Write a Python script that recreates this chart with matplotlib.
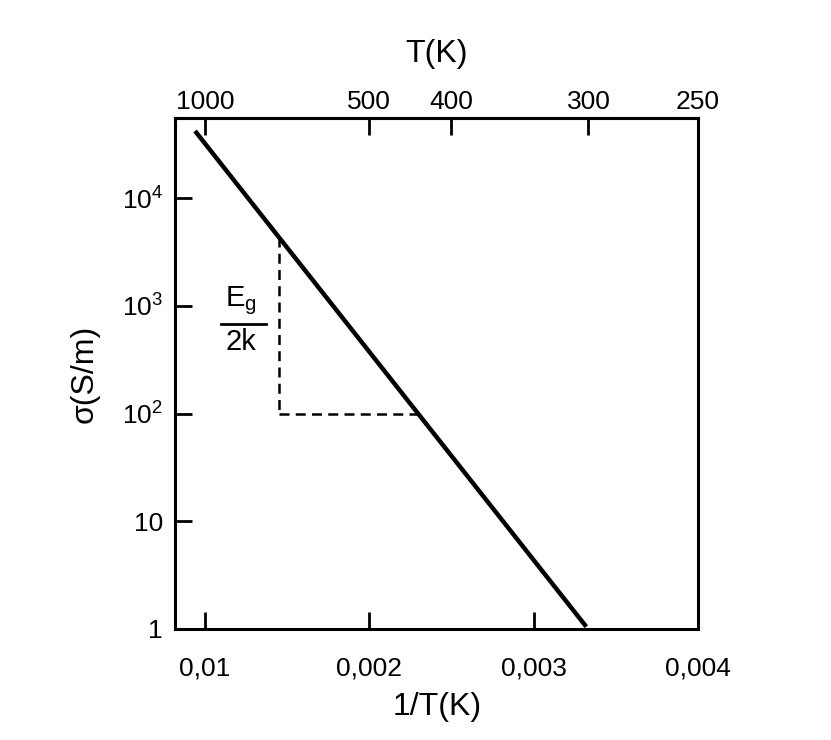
import numpy as np
import matplotlib
matplotlib.use("Agg")
import matplotlib.pyplot as plt

plt.rcParams["font.family"] = ["Liberation Sans", "DejaVu Sans"]
plt.rcParams["mathtext.fontset"] = "custom"
plt.rcParams["mathtext.rm"] = "Liberation Sans"
plt.rcParams["mathtext.it"] = "Liberation Sans"
plt.rcParams["mathtext.default"] = "regular"

# Conductivity line (endpoints in 1/T and sigma)
inv_t_line = [0.00094, 0.00332]
sigma_line = [4.2e4, 1.05]

# Slope triangle: vertical leg position and horizontal leg level
tri_x = 0.00145
tri_sigma = 100.0

# Bottom axis ticks (1/T)
x_ticks = [0.001, 0.002, 0.003, 0.004]
x_labels = ["0,01", "0,002", "0,003", "0,004"]

# Top axis ticks (temperature in K)
t_ticks = [1000, 500, 400, 300, 250]

# Left axis ticks (sigma)
y_ticks = [1, 10, 100, 1e3, 1e4]
y_labels = ["1", "10", "$10^{2}$", "$10^{3}$", "$10^{4}$"]

fig = plt.figure(figsize=(8.31, 7.40), dpi=100)
ax = fig.add_axes([0.211, 0.150, 0.629, 0.690])

ax.set_yscale("log")
ax.set_xlim(0.00082, 0.004)
ax.set_ylim(1, 10 ** 4.74)

ax.plot(inv_t_line, sigma_line, color="black", lw=3.2, solid_capstyle="butt")

# straight line on log axes: log10(sigma) linear in 1/T
lx = np.array(inv_t_line)
ly = np.log10(sigma_line)
slope = (ly[1] - ly[0]) / (lx[1] - lx[0])
top_sigma = 10 ** (ly[0] + slope * (tri_x - lx[0]))
right_x = lx[0] + (np.log10(tri_sigma) - ly[0]) / slope
ax.plot([tri_x, tri_x], [top_sigma, tri_sigma], color="black", lw=1.8,
        ls=(0, (4, 2.5)))
ax.plot([tri_x, right_x], [tri_sigma, tri_sigma], color="black", lw=1.8,
        ls=(0, (4, 2.5)))

# Eg / 2k label as a stacked fraction
ax.text(0.00122, 10 ** 2.9, "E$_g$", ha="center", va="bottom", fontsize=21)
ax.plot([0.00110, 0.00137], [10 ** 2.83, 10 ** 2.83], color="black", lw=2.0)
ax.text(0.00122, 10 ** 2.79, "2k", ha="center", va="top", fontsize=21)

for sp in ax.spines.values():
    sp.set_linewidth(2.2)

ax.set_xticks(x_ticks)
ax.set_xticklabels(x_labels)
ax.set_yticks(y_ticks)
ax.set_yticklabels(y_labels)
ax.minorticks_off()
ax.tick_params(axis="both", direction="in", length=12, width=2.0,
               labelsize=19, pad=9)
ax.tick_params(axis="x", pad=20)

sec = ax.secondary_xaxis("top", functions=(lambda v: v, lambda v: v))
sec.set_xticks([1.0 / t for t in t_ticks])
sec.set_xticklabels([str(t) for t in t_ticks])
sec.tick_params(direction="in", length=12, width=2.0, labelsize=19, pad=3)
sec.spines["top"].set_linewidth(2.2)

ax.set_xlabel("1/T(K)", fontsize=23, labelpad=8)
ax.set_ylabel("σ(S/m)", fontsize=23, labelpad=16)
sec.set_xlabel("T(K)", fontsize=23, labelpad=20)

fig.savefig("out.png", dpi=100, facecolor="white")
